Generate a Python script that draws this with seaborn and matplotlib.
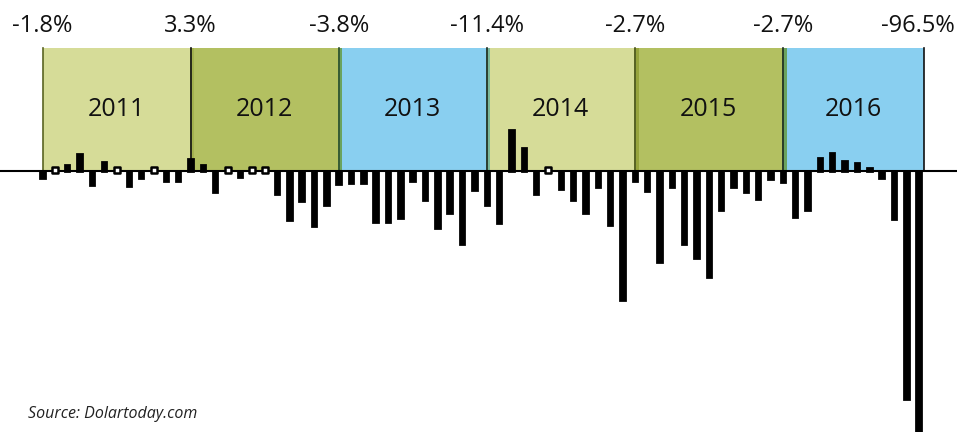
import pandas as pd
import matplotlib.pyplot as plt
import numpy as np
import seaborn as sns

# data ------------------------------------------------------------
years = ["2011", "2012", "2013", "2014", "2015", "2016"]
boundary_labels = ["-1.8%", "3.3%", "-3.8%", "-11.4%", "-2.7%", "-2.7%", "-96.5%"]

# monthly change (%)
chg_2011 = [-1.4, 0, 1.2, 3.4, -2.8, 1.8, 0, -3.0, -1.4, 0, -2.0, -2.0]
chg_2012 = [2.4, 1.2, -4.2, 0, -1.2, 0, 0, -4.6, -9.8, -6.0, -11.0, -6.8]
chg_2013 = [-2.6, -2.4, -2.4, -10.2, -10.2, -9.4, -2.0, -5.8, -11.4, -8.4, -14.6, -3.8]
chg_2014 = [-6.8, -10.4, 8.2, 4.6, -4.6, 0, -3.6, -5.8, -8.4, -3.2, -10.8, -25.8]
chg_2015 = [-2.0, -4.0, -18.2, -3.2, -14.6, -17.4, -21.2, -7.8, -3.2, -4.2, -5.6, -1.6]
chg_2016 = [-2.2, -9.2, -7.8, 2.6, 3.6, 2.0, 1.6, 0.6, -1.4, -9.6, -45.6, -54.0]

values = chg_2011 + chg_2012 + chg_2013 + chg_2014 + chg_2015 + chg_2016
months = [f"{y}-{m:02d}" for y in years for m in range(1, 13)]
df = pd.DataFrame({"month": months, "change": values})

# style -----------------------------------------------------------
panel_colors = ["#d6dc98", "#b3c061", "#89cff0", "#d6dc98", "#b3c061", "#89cff0"]
band_colors = ["#7d8a3a", "#a4b24f", "#6aa35e", "#7bb89a", "#97a43c", "#6aa35e", "#89cff0"]
line_colors = ["#5a6422", "#111111", "#2f4f2c", "#1e2a20", "#4c5620", "#1e2a20", "#111111"]

W, H = 957, 432
fig = plt.figure(figsize=(W / 100, H / 100), dpi=100)
ax = fig.add_axes([0, 0, 1, 1])

step = 12.34          # px per month
x0 = 42.5             # px of first bar centre
zero_px = 171
scale = 0.2           # % per px
panel_top = (zero_px - 48) * scale
last_edge = (924 - x0) / step

# background panels
for k, (yr, c) in enumerate(zip(years, panel_colors)):
    left = 12 * k
    right = min(12 * (k + 1), last_edge)
    ax.fill_between([left, right], 0, panel_top, color=c, lw=0, zorder=0)
    ax.text((left + right) / 2, (zero_px - 110) * scale, yr, ha="center", va="center",
            fontsize=18, family="Open Sans", color="#111111", zorder=3)

bounds = [12 * k for k in range(6)] + [last_edge]
for b, bc, lc in zip(bounds, band_colors, line_colors):
    if 0 < b < last_edge:
        ax.fill_between([b - 0.05, b + 0.3], 0, panel_top, color=bc, lw=0, zorder=0.5)
    ax.plot([b, b], [0, panel_top], color=lc, lw=1.2, zorder=1)

# bars
sns.barplot(data=df, x="month", y="change", order=months, color="black", saturation=1,
            width=0.36, edgecolor="black", linewidth=2, errorbar=None, ax=ax, zorder=2)

# hollow markers for the flat months
zero_idx = [i for i, v in enumerate(values) if v == 0]
ax.scatter(zero_idx, [0.3] * len(zero_idx), marker="s", s=14, facecolor="white",
           edgecolor="black", linewidth=1.8, zorder=4)

ax.axhline(0, color="black", lw=1.5, zorder=3)

# labels on the year boundaries
for b, lab in zip(bounds[:-1], boundary_labels[:-1]):
    ax.text(b, (zero_px - 26) * scale, lab, ha="center", va="center",
            fontsize=17, family="Open Sans", color="#111111")
fig.text(955 / W, 1 - 26 / H, boundary_labels[-1], ha="right", va="center",
         fontsize=17, family="Open Sans", color="#111111")

fig.text(28 / W, 1 - 418 / H, "Source: Dolartoday.com", ha="left", va="baseline",
         fontsize=11.5, family="Open Sans", style="italic", color="#222222")

ax.set_xlim(-x0 / step, (W - x0) / step)
ax.set_ylim(-(H - zero_px) * scale, zero_px * scale)
ax.axis("off")

plt.savefig("out.png", dpi=100)
